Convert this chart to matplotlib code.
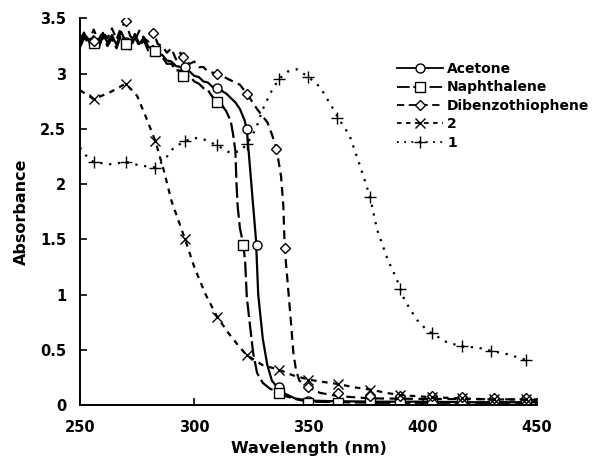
import matplotlib
matplotlib.use("Agg")
import matplotlib.pyplot as plt
from matplotlib.lines import Line2D

plt.rcParams['font.family'] = ['DejaVu Sans']
plt.rcParams['font.weight'] = 'bold'

# ---- data ----
# Acetone (solid, circles)
acetone_x = [250, 252, 254, 256, 258, 260, 262, 264, 266, 268, 270, 272, 274, 276, 278, 280,
             282, 284, 286, 288, 290, 292, 294, 296, 298, 300, 302, 304, 306, 308, 310,
             314, 318, 320, 322, 323, 324, 325, 326, 327, 328, 330, 332, 334, 336, 338,
             340, 344, 350, 360, 380, 400, 420, 450]
acetone_y = [3.27, 3.36, 3.29, 3.34, 3.25, 3.37, 3.28, 3.35, 3.26, 3.38, 3.29, 3.25, 3.36, 3.27, 3.33, 3.24,
             3.23, 3.18, 3.17, 3.12, 3.11, 3.07, 3.06, 3.03, 3.02, 2.98, 2.97, 2.93, 2.92, 2.88, 2.87,
             2.82, 2.74, 2.68, 2.58, 2.50, 2.25, 2.00, 1.75, 1.50, 1.00, 0.60, 0.36, 0.22, 0.17, 0.13,
             0.10, 0.06, 0.04, 0.035, 0.03, 0.03, 0.025, 0.025]
acetone_mx = [256, 270, 283, 296, 310, 323, 327.5, 337, 350, 363, 377, 390, 404, 417, 431, 445]
acetone_my = [3.29, 3.29, 3.21, 3.06, 2.87, 2.50, 1.45, 0.16, 0.04, 0.03, 0.03, 0.03, 0.03, 0.03, 0.03, 0.03]

# Naphthalene (long dash, squares)
naph_x = [250, 252, 254, 256, 258, 260, 262, 264, 266, 268, 270, 272, 274, 276, 278, 280,
          282, 284, 286, 288, 290, 292, 294, 296, 298, 300, 302, 304, 306, 308, 310,
          312, 314, 316, 317, 318, 318.5, 319, 320, 321.5, 322.3, 323, 324.5, 325.8, 327.5,
          330, 333, 337, 340, 345, 350, 380, 420, 450]
naph_y = [3.24, 3.33, 3.26, 3.31, 3.22, 3.34, 3.25, 3.32, 3.23, 3.35, 3.27, 3.22, 3.33, 3.25, 3.30, 3.20,
          3.25, 3.16, 3.15, 3.09, 3.09, 3.03, 3.03, 2.98, 2.98, 2.93, 2.91, 2.87, 2.85, 2.79, 2.75,
          2.72, 2.66, 2.57, 2.45, 2.30, 2.00, 1.80, 1.60, 1.45, 1.29, 0.98, 0.70, 0.47, 0.29,
          0.20, 0.15, 0.11, 0.08, 0.05, 0.03, 0.02, 0.02, 0.02]
naph_mx = [256, 270, 283, 295, 310, 321.5, 337, 350, 363, 377, 390, 404, 417, 431, 445]
naph_my = [3.28, 3.27, 3.21, 2.98, 2.74, 1.45, 0.11, 0.02, 0.02, 0.02, 0.02, 0.02, 0.02, 0.02, 0.02]

# Dibenzothiophene (dash, diamonds)
dbt_x = [250, 252, 254, 256, 258, 260, 262, 264, 266, 268, 270, 272, 274, 276, 278, 280,
         282, 284, 286, 288, 290, 292, 294, 296, 298, 300, 302, 304, 306, 308, 310,
         316, 320, 323, 327.5, 332, 334, 336, 338, 339, 339.6, 340.5, 342, 343.4, 344.5,
         346, 350, 355, 363, 377, 400, 450]
dbt_y = [3.31, 3.38, 3.29, 3.40, 3.30, 3.38, 3.32, 3.41, 3.31, 3.42, 3.47, 3.34, 3.30, 3.39, 3.32, 3.29,
         3.39, 3.27, 3.25, 3.19, 3.23, 3.13, 3.19, 3.11, 3.09, 3.11, 3.06, 3.06, 3.02, 3.01, 3.00,
         2.94, 2.90, 2.82, 2.68, 2.56, 2.45, 2.32, 2.07, 1.80, 1.42, 1.20, 0.83, 0.47, 0.32,
         0.22, 0.16, 0.11, 0.08, 0.06, 0.055, 0.05]
dbt_mx = [256, 270, 282, 295, 310, 323, 336, 339.6, 350, 363, 377, 390, 404, 417, 431, 445]
dbt_my = [3.30, 3.48, 3.37, 3.15, 3.00, 2.82, 2.32, 1.42, 0.16, 0.11, 0.08, 0.08, 0.08, 0.07, 0.06, 0.06]

# Series "2" (short dash, x)
s2_x = [250, 256, 263, 270, 275, 279, 283, 287, 290, 296, 300, 305, 310, 315, 320, 323, 327,
        330, 337, 343, 350, 356, 363, 370, 377, 384, 390, 404, 417, 431, 445, 450]
s2_y = [2.85, 2.77, 2.83, 2.91, 2.80, 2.60, 2.39, 2.10, 1.85, 1.50, 1.25, 1.00, 0.80, 0.65, 0.52, 0.45, 0.40,
        0.36, 0.32, 0.27, 0.23, 0.21, 0.19, 0.16, 0.14, 0.11, 0.09, 0.07, 0.06, 0.05, 0.05, 0.045]
s2_mx = [256, 270, 283, 296, 310, 323, 337, 350, 363, 377, 390, 404, 417, 431, 445]
s2_my = [2.77, 2.91, 2.39, 1.50, 0.80, 0.45, 0.32, 0.23, 0.19, 0.14, 0.09, 0.07, 0.06, 0.05, 0.05]

# Series "1" (dotted, +)
s1_x = [250, 253, 256, 263, 270, 276, 283, 287, 291, 296, 300, 305, 310, 316, 320, 323, 327,
        330, 334, 337, 341, 345, 350, 355, 360, 363, 368, 372.5, 377, 380, 384.6, 388.6, 392,
        397.5, 401.7, 404, 410.4, 417, 424, 430, 437, 445, 447]
s1_y = [2.33, 2.25, 2.20, 2.18, 2.20, 2.17, 2.15, 2.22, 2.33, 2.39, 2.42, 2.40, 2.35, 2.28, 2.30, 2.36, 2.50,
        2.68, 2.85, 2.95, 3.02, 3.04, 2.97, 2.88, 2.71, 2.60, 2.44, 2.17, 1.88, 1.59, 1.32, 1.14, 0.95,
        0.77, 0.68, 0.65, 0.57, 0.53, 0.52, 0.49, 0.46, 0.41, 0.38]
s1_mx = [256, 270, 283, 296, 310, 323, 337, 350, 362.5, 377, 390, 404, 417, 430, 445]
s1_my = [2.20, 2.20, 2.15, 2.39, 2.35, 2.36, 2.95, 2.97, 2.60, 1.88, 1.05, 0.65, 0.53, 0.49, 0.41]

labels = ['Acetone', 'Naphthalene', 'Dibenzothiophene', '2', '1']

fig = plt.figure(figsize=(5.96, 4.62), dpi=100)
ax = fig.add_axes([0.1342, 0.1234, 0.9010 - 0.1342, 0.960 - 0.1234])

series = [
    (acetone_x, acetone_y, acetone_mx, acetone_my, '-', 'o', 6.5),
    (naph_x, naph_y, naph_mx, naph_my, (0, (7, 2)), 's', 6.5),
    (dbt_x, dbt_y, dbt_mx, dbt_my, (0, (4, 2.5)), 'D', 4.8),
    (s2_x, s2_y, s2_mx, s2_my, (0, (2.5, 2.5)), 'x', 7),
    (s1_x, s1_y, s1_mx, s1_my, (0, (1, 3)), '+', 8),
]

handles = []
for (x, y, mx, my, ls, mk, ms), lab in zip(series, labels):
    ax.plot(x, y, color='black', lw=1.6, ls=ls)
    ax.plot(mx, my, ls='none', marker=mk, ms=ms, mfc='white', mec='black', mew=1.0)
    handles.append(Line2D([], [], color='black', lw=1.3, ls=ls, marker=mk, ms=ms,
                          mfc='white', mec='black', mew=1.0))

ax.set_xlim(250, 450)
ax.set_ylim(0, 3.5)
ax.set_xticks([250, 300, 350, 400, 450])
ax.set_yticks([0, 0.5, 1, 1.5, 2, 2.5, 3, 3.5])
ax.set_yticklabels(['0', '0.5', '1', '1.5', '2', '2.5', '3', '3.5'])
ax.tick_params(direction='in', length=5, width=1.2, labelsize=10.5)
ax.tick_params(axis='x', pad=11)
ax.tick_params(axis='y', pad=10)
for lab in ax.get_xticklabels() + ax.get_yticklabels():
    lab.set_fontweight('bold')
ax.spines['top'].set_visible(False)
ax.spines['right'].set_visible(False)
ax.spines['left'].set_linewidth(1.4)
ax.spines['bottom'].set_linewidth(1.4)

ax.set_xlabel('Wavelength (nm)', fontsize=11.5, fontweight='bold', labelpad=4)
ax.set_ylabel('Absorbance', fontsize=11.5, fontweight='bold', labelpad=8)

leg = fig.legend(handles, labels, loc='upper left', bbox_to_anchor=(390 / 596, 1 - 55 / 462),
                 frameon=False, handlelength=3.3, handletextpad=0.3,
                 labelspacing=0.32, borderpad=0, prop={'weight': 'bold', 'size': 10})

fig.savefig('out.png', dpi=100)
